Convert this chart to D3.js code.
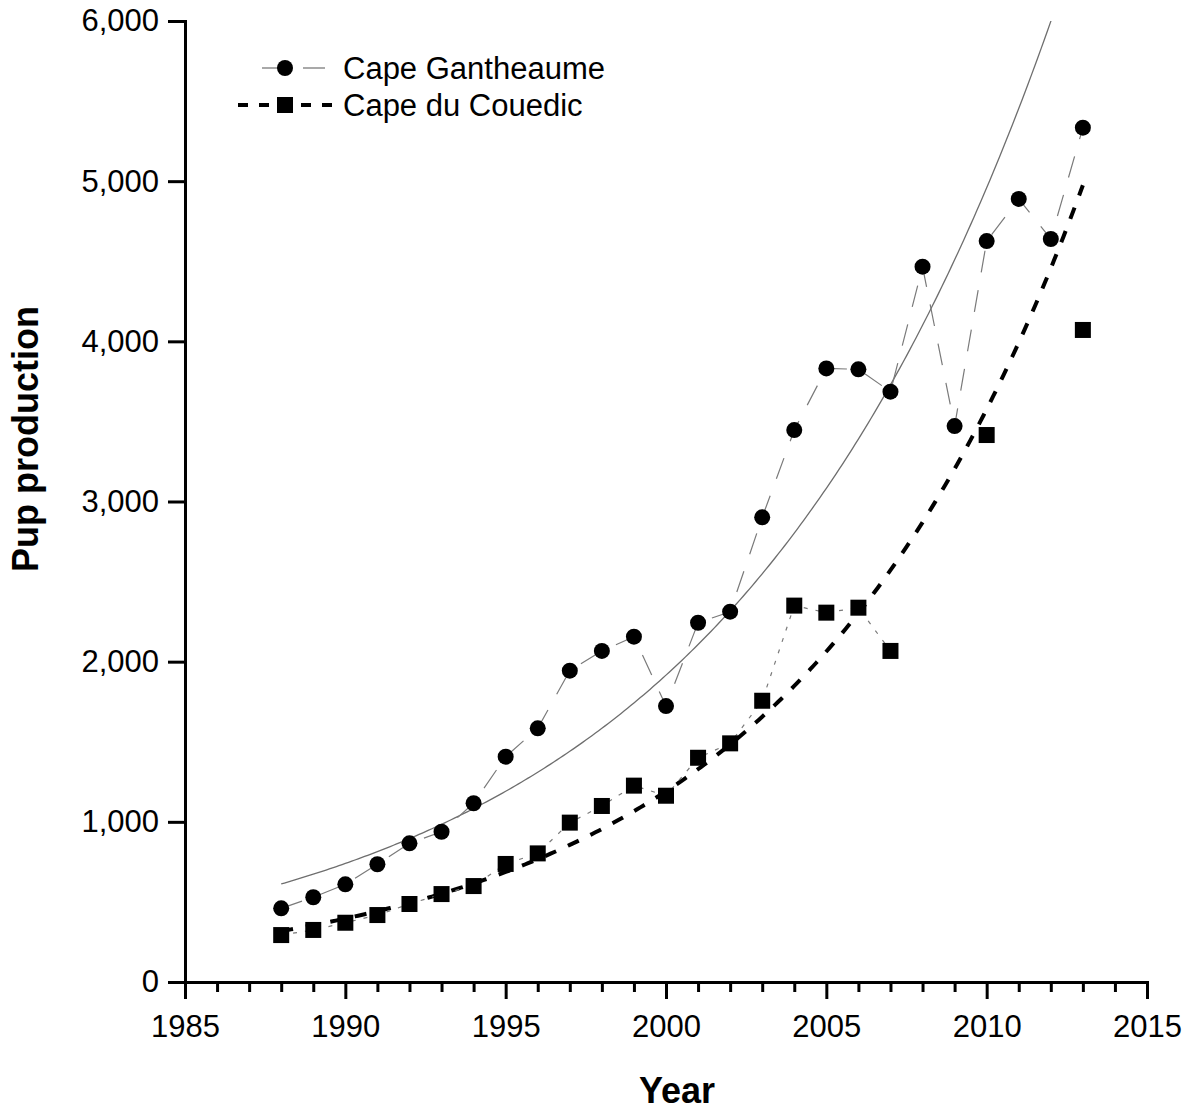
<!DOCTYPE html>
<html lang="en">
<head>
    <meta charset="utf-8">
    <title>Pup production</title>
    <script src="https://d3js.org/d3.v7.min.js"></script>
    <style>
        body { margin: 0; background: #fff; }
        text { font-family: "Liberation Sans", Arial, sans-serif; fill: #000; }
    </style>
</head>
<body>
<svg width="1193" height="1112" id="mainsvg"></svg>

<script>
    // pup counts
    const cgYears = [1988, 1989, 1990, 1991, 1992, 1993, 1994, 1995, 1996, 1997, 1998, 1999, 2000,
                     2001, 2002, 2003, 2004, 2005, 2006, 2007, 2008, 2009, 2010, 2011, 2012, 2013]
    const cgPups = [460, 529, 610, 735, 866, 938, 1116, 1407, 1584, 1944, 2067, 2156, 1723,
                    2243, 2312, 2901, 3446, 3831, 3825, 3686, 4466, 3471, 4626, 4889, 4639, 5334]

    const cdcYears = [1988, 1989, 1990, 1991, 1992, 1993, 1994, 1995, 1996, 1997, 1998, 1999, 2000,
                      2001, 2002, 2003, 2004, 2005, 2006, 2007, 2010, 2013]
    const cdcPups = [293, 325, 370, 418, 487, 549, 599, 737, 803, 995, 1099, 1226, 1163,
                     1400, 1490, 1756, 2350, 2306, 2337, 2067, 3415, 4071]

    const seriesNames = ['Cape Gantheaume', 'Cape du Couedic']

    // exponential fits: value at first year and yearly growth rate
    const fitStart = [612, 318]
    const fitRate = [0.0951, 0.110]
    const fitYears = [1988, 2013]

    const xTicks = [1985, 1990, 1995, 2000, 2005, 2010, 2015]
    const xMinorTicks = [1986, 1987, 1988, 1989, 1991, 1992, 1993, 1994, 1996, 1997, 1998, 1999,
                         2001, 2002, 2003, 2004, 2006, 2007, 2008, 2009, 2011, 2012, 2013, 2014]
    const yTicks = [0, 1000, 2000, 3000, 4000, 5000, 6000]

    const xAxisLabel = 'Year'
    const yAxisLabel = 'Pup production'

    const svg = d3.select('#mainsvg')
    const width = +svg.attr('width')
    const height = +svg.attr('height')

    const plot = {left: 185, right: 1147, top: 21, bottom: 982}

    const xScale = d3.scaleLinear().domain([1985, 2015]).range([plot.left, plot.right])
    const yScale = d3.scaleLinear().domain([0, 6000]).range([plot.bottom, plot.top])

    svg.append('clipPath').attr('id', 'plotclip')
        .append('rect')
        .attr('x', plot.left).attr('y', plot.top)
        .attr('width', plot.right - plot.left).attr('height', plot.bottom - plot.top)

    //fit curves
    const fitCurve = function (i) {
        const pts = []
        for (let t = fitYears[0]; t <= fitYears[1] + 1e-9; t += 0.1) {
            pts.push([t, fitStart[i] * Math.exp(fitRate[i] * (t - fitYears[0]))])
        }
        return pts
    }
    const line = d3.line().x(d => xScale(d[0])).y(d => yScale(d[1]))

    const fits = svg.append('g').attr('clip-path', 'url(#plotclip)')
    fits.append('path')
        .attr('d', line(fitCurve(0)))
        .attr('fill', 'none')
        .attr('stroke', '#6e6e6e')
        .attr('stroke-width', 1.3)
    fits.append('path')
        .attr('d', line(fitCurve(1)))
        .attr('fill', 'none')
        .attr('stroke', '#000')
        .attr('stroke-width', 4)
        .attr('stroke-dasharray', '12,13')

    //connecting lines
    const cgPts = cgYears.map((y, i) => [y, cgPups[i]])
    const cdcPts = cdcYears.map((y, i) => [y, cdcPups[i]])

    svg.append('path')
        .attr('d', line(cgPts))
        .attr('fill', 'none')
        .attr('stroke', '#7a7a7a')
        .attr('stroke-width', 1.2)
        .attr('stroke-dasharray', '22,18')

    // only consecutive years are joined for Cape du Couedic
    const cdcRuns = []
    cdcPts.forEach((p, i) => {
        if (i === 0 || p[0] - cdcPts[i - 1][0] > 1) cdcRuns.push([])
        cdcRuns[cdcRuns.length - 1].push(p)
    })
    cdcRuns.filter(r => r.length > 1).forEach(r => {
        svg.append('path')
            .attr('d', line(r))
            .attr('fill', 'none')
            .attr('stroke', '#7a7a7a')
            .attr('stroke-width', 1.2)
            .attr('stroke-dasharray', '4,8')
    })

    //axes
    const xAxis = d3.axisBottom(xScale).tickValues(xTicks).tickFormat(d3.format('d'))
        .tickSize(17).tickSizeOuter(0).tickPadding(16)
    const xAxisGroup = svg.append('g').attr('transform', `translate(0, ${plot.bottom})`).call(xAxis)

    const xMinor = d3.axisBottom(xScale).tickValues(xMinorTicks).tickFormat('')
        .tickSize(10).tickSizeOuter(0)
    const xMinorGroup = svg.append('g').attr('transform', `translate(0, ${plot.bottom})`).call(xMinor)
    xMinorGroup.select('.domain').remove()

    const yAxis = d3.axisLeft(yScale).tickValues(yTicks).tickFormat(d3.format(','))
        .tickSize(17).tickSizeOuter(0).tickPadding(9)
    const yAxisGroup = svg.append('g').attr('transform', `translate(${plot.left}, 0)`).call(yAxis)

    svg.selectAll('.domain, .tick line').attr('stroke', '#000').attr('stroke-width', 3)
    svg.selectAll('.domain').attr('stroke-linecap', 'square')
    svg.selectAll('.tick text').attr('font-size', '31px').attr('fill', '#000')
        .style('font-family', '"Liberation Sans", Arial, sans-serif')

    svg.append('text')
        .text(xAxisLabel)
        .attr('x', 677)
        .attr('y', 1103)
        .attr('text-anchor', 'middle')
        .attr('font-size', '36px')
        .attr('font-weight', 'bold')

    svg.append('text')
        .text(yAxisLabel)
        .attr('transform', 'translate(38, 439) rotate(-90)')
        .attr('text-anchor', 'middle')
        .attr('font-size', '36px')
        .attr('font-weight', 'bold')

    //markers
    svg.append('g').selectAll('circle').data(cgPts).join('circle')
        .attr('cx', d => xScale(d[0]))
        .attr('cy', d => yScale(d[1]))
        .attr('r', 8)
        .attr('fill', '#000')

    svg.append('g').selectAll('rect').data(cdcPts).join('rect')
        .attr('x', d => xScale(d[0]) - 8)
        .attr('y', d => yScale(d[1]) - 8)
        .attr('width', 16)
        .attr('height', 16)
        .attr('fill', '#000')

    //legend
    const legend = svg.append('g')
    legend.append('line').attr('x1', 262).attr('x2', 280).attr('y1', 68).attr('y2', 68)
        .attr('stroke', '#7a7a7a').attr('stroke-width', 1.3)
    legend.append('line').attr('x1', 303).attr('x2', 325).attr('y1', 68).attr('y2', 68)
        .attr('stroke', '#7a7a7a').attr('stroke-width', 1.3)
    legend.append('circle').attr('cx', 285).attr('cy', 68).attr('r', 8).attr('fill', '#000')

    legend.append('line').attr('x1', 238).attr('x2', 332).attr('y1', 105).attr('y2', 105)
        .attr('stroke', '#000').attr('stroke-width', 4).attr('stroke-dasharray', '10,11')
    legend.append('rect').attr('x', 277).attr('y', 97).attr('width', 16).attr('height', 16)
        .attr('fill', '#000')

    seriesNames.forEach((name, i) => {
        legend.append('text')
            .text(name)
            .attr('x', 343)
            .attr('y', [68, 105][i])
            .attr('dy', '0.36em')
            .attr('font-size', '31px')
    })
</script>
</body>
</html>
